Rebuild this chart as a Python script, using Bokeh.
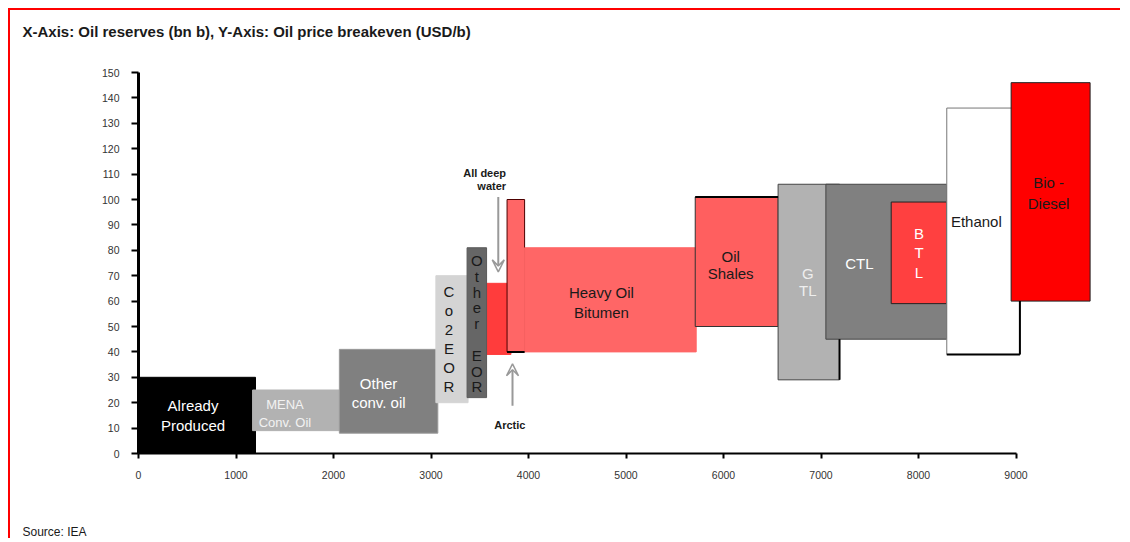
from bokeh.plotting import figure
from bokeh.models import ColumnDataSource, FixedTicker, Arrow, VeeHead, Title, Range1d
from bokeh.core.properties import value
from bokeh.embed import file_html
from bokeh.resources import INLINE

# ---------------- data ----------------
categories = ["Already Produced", "MENA Conv. Oil", "Other conv. oil", "Co2 EOR",
              "All deep water", "Other EOR", "Arctic", "Heavy Oil Bitumen",
              "Oil Shales", "GTL", "CTL", "BTL", "Ethanol", "Bio-Diesel"]
reserves_start = [0, 1170, 2060, 3050, 3520, 3370, 3780, 3960, 5710, 6560, 7050, 7720, 8290, 8950]
reserves_end = [1200, 2060, 3070, 3380, 3820, 3570, 3960, 5720, 6560, 7190, 8290, 8290, 9040, 9760]
breakeven_low = [0, 9, 8, 20, 39, 22, 40, 40, 50, 29, 45, 59, 39, 60]
breakeven_high = [30, 25, 41, 70, 67, 81, 100, 81, 101, 106, 106, 99, 136, 146]
box_labels = ["Already\nProduced", "MENA\nConv. Oil", "Other\nconv. oil", "C\no\n2\nE\nO\nR",
              "", "O\nt\nh\ne\nr\n\nE\nO\nR", "", "Heavy Oil\nBitumen",
              "Oil\nShales", "G\nTL", "CTL", "B\nT\nL", "Ethanol", "Bio -\nDiesel"]

x_ticks = [0, 1000, 2000, 3000, 4000, 5000, 6000, 7000, 8000, 9000]
y_ticks = [0, 10, 20, 30, 40, 50, 60, 70, 80, 90, 100, 110, 120, 130, 140, 150]

note_text = ["All deep\nwater", "Arctic"]
note_x = [3770, 3808]
note_y = [108, 11.4]
arrow_x = [3690, 3836]
arrow_y_start = [101, 18.8]
arrow_y_end = [71.5, 35.3]

title_text = "X-Axis: Oil reserves (bn b), Y-Axis: Oil price breakeven (USD/b)"
source_text = "Source: IEA"

# ---------------- styles ----------------
fill_colors = ["#000000", "#b2b2b2", "#808080", "#d4d4d4", "#ff3c3c", "#666666", "#ff6666",
               "#ff6666", "#ff5f5f", "#b2b2b2", "#808080", "#ff4040", "#ffffff", "#ff0000"]
line_colors = ["#000000", "#b2b2b2", "#9a9a9a", "#d4d4d4", "#ff3c3c", "#5a5a5a", "#4d0000",
               "#ff6666", "#333333", "#444444", "#444444", "#222222", "#777777", "#222222"]
label_colors = ["#ffffff", "#f2f2f2", "#ffffff", "#1a1a1a", "#1a1a1a", "#1a1a1a", "#1a1a1a",
                "#1a1a1a", "#1a1a1a", "#eeeeee", "#ffffff", "#ffffff", "#1a1a1a", "#1a1a1a"]
label_sizes = ["15px", "13px", "15px", "15px", "15px", "15px", "15px",
               "15px", "15px", "15px", "15px", "15px", "15px", "15px"]
label_lh = [1.18, 1.16, 1.1, 1.12, 1.1, 0.93, 1.1, 1.16, 1.01, 1.03, 1.1, 1.13, 1.1, 1.23]
label_dx = [-4, -11, -10, -3, 0, 0, 0, -9, -6, -1, -27, 0, -7, -2]
label_dy = [0, 3, 2, 0, 0, 1, 0, 3, 3, 0, 2, 0, -10, 1]

FONT = "Liberation Sans"

src = ColumnDataSource(dict(
    cat=categories, left=reserves_start, right=reserves_end,
    bottom=breakeven_low, top=breakeven_high,
    label=box_labels,
    xc=[(a + b) / 2 for a, b in zip(reserves_start, reserves_end)],
    yc=[(a + b) / 2 for a, b in zip(breakeven_low, breakeven_high)],
    fill=fill_colors, line=line_colors, tcol=label_colors, tsize=label_sizes,
    lh=label_lh, dx=label_dx, dy=label_dy,
))

p = figure(width=1112, height=530, output_backend="svg", toolbar_location=None,
           x_range=Range1d(0, 10000), y_range=Range1d(0, 150),
           min_border_left=128, min_border_right=9, min_border_top=62, min_border_bottom=87)
p.styles = {"border-top": "2px solid #ff0000", "border-left": "2px solid #ff0000",
            "margin-left": "8px", "margin-top": "8px"}
p.outline_line_color = None
p.background_fill_color = "white"
p.border_fill_color = "white"
p.xgrid.visible = False
p.ygrid.visible = False

# spacer next to the frame, then the real title further out
p.add_layout(Title(text=" ", text_font_size="10px", standoff=20), "above")
p.add_layout(Title(text=title_text, align="left", offset=-116, standoff=0,
                   text_font=FONT, text_font_size="15px", text_font_style="bold",
                   text_color="#1a1a1a"), "above")

p.quad(left="left", right="right", bottom="bottom", top="top", source=src,
       fill_color="fill", line_color="line", line_width=1)

# darker "shadow" edges seen on some boxes
i_sh, i_gtl, i_eth, i_arc = categories.index("Oil Shales"), categories.index("GTL"), \
    categories.index("Ethanol"), categories.index("Arctic")
p.segment(x0=[reserves_start[i_sh], reserves_end[i_gtl], reserves_start[i_eth], reserves_end[i_eth],
              reserves_start[i_arc]],
          y0=[breakeven_high[i_sh], breakeven_low[i_gtl], breakeven_low[i_eth], breakeven_low[i_eth],
              breakeven_low[i_arc]],
          x1=[reserves_end[i_sh], reserves_end[i_gtl], reserves_end[i_eth], reserves_end[i_eth],
              reserves_end[i_arc]],
          y1=[breakeven_high[i_sh], breakeven_low[i_sh] - 5, breakeven_low[i_eth], breakeven_low[-1],
              breakeven_low[i_arc]],
          line_color="black", line_width=2)

p.text(x="xc", y="yc", text="label", source=src, x_offset="dx", y_offset="dy",
       text_color="tcol", text_font_size="tsize", text_line_height="lh",
       text_font=value(FONT), text_align="center", text_baseline="middle")

# annotations
p.text(x=[note_x[0]], y=[note_y[0]], text=[note_text[0]], text_font=value(FONT),
       text_font_size="11px", text_font_style="bold", text_color="#1a1a1a",
       text_align="right", text_baseline="middle", text_line_height=1.1)
p.text(x=[note_x[1]], y=[note_y[1]], text=[note_text[1]], text_font=value(FONT),
       text_font_size="11px", text_font_style="bold", text_color="#1a1a1a",
       text_align="center", text_baseline="middle")
for xa, ys, ye in zip(arrow_x, arrow_y_start, arrow_y_end):
    p.add_layout(Arrow(end=VeeHead(size=12, line_color="#999999", line_width=1.5, fill_color=None),
                       x_start=xa, y_start=ys, x_end=xa, y_end=ye,
                       line_color="#999999", line_width=2))

# axes
for ax in (p.xaxis, p.yaxis):
    ax.major_label_text_font = FONT
    ax.major_label_text_font_size = "10.5px"
    ax.major_label_text_color = "#333333"
    ax.minor_tick_line_color = None
    ax.major_tick_in = 0
    ax.axis_line_color = "black"
    ax.major_tick_line_color = "black"

p.xaxis.ticker = FixedTicker(ticks=x_ticks)
p.xaxis.bounds = (0, 9000)
p.xaxis.axis_line_width = 2
p.xaxis.major_tick_out = 5
p.xaxis.major_tick_line_width = 2
p.xaxis.major_label_standoff = 12

p.yaxis.ticker = FixedTicker(ticks=y_ticks)
p.yaxis.bounds = (0, 150)
p.yaxis.axis_line_width = 3
p.yaxis.major_tick_out = 7
p.yaxis.major_tick_line_width = 2
p.yaxis.major_label_standoff = 12

# spacer below the axis, then the source line
p.add_layout(Title(text=" ", text_font_size="10px", standoff=28), "below")
p.add_layout(Title(text=source_text, align="left", offset=-116, standoff=0,
                   text_font=FONT, text_font_size="12px", text_font_style="normal",
                   text_color="#1a1a1a"), "below")

open("out.html", "w").write(file_html(p, INLINE))
